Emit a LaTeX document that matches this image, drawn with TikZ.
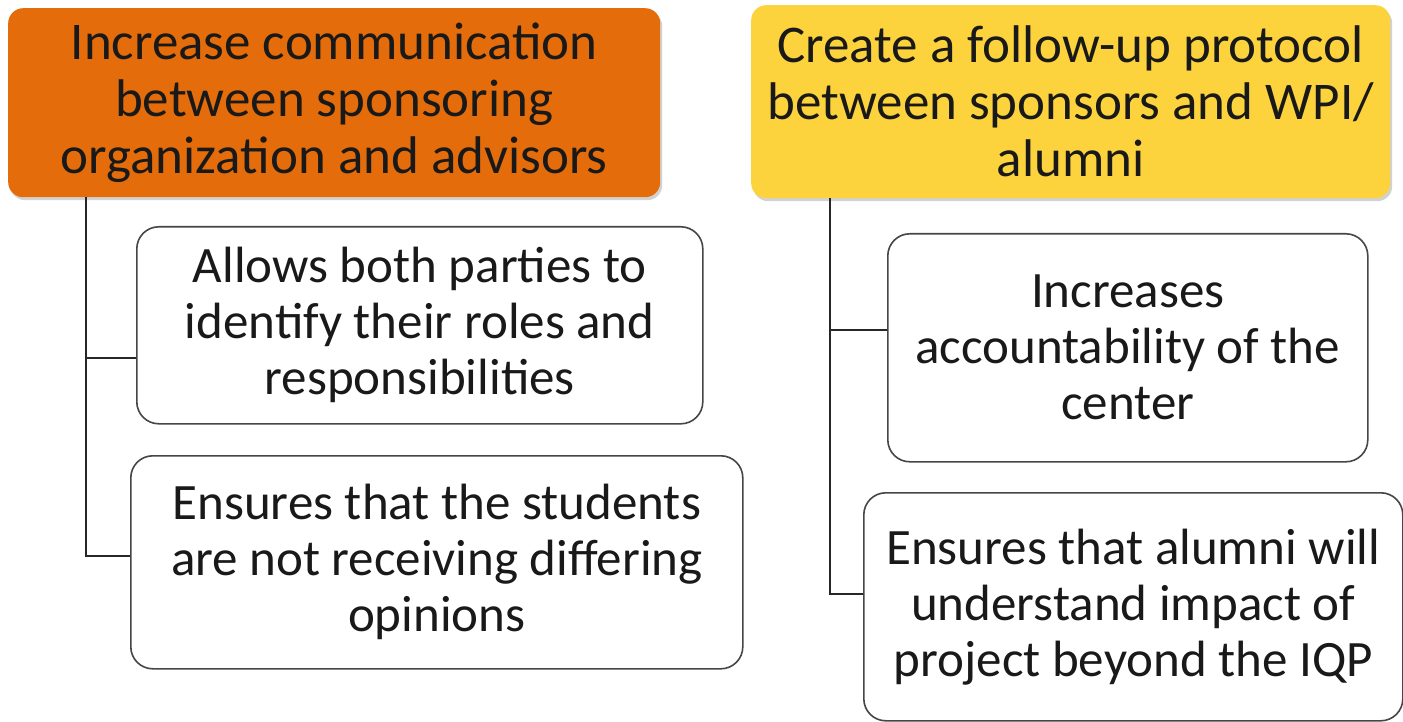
\documentclass[tikz,border=0pt]{standalone}
\usepackage{fontspec}
\setmainfont{Carlito}
\usetikzlibrary{shadows}
\definecolor{hdrorange}{RGB}{228,108,10}
\definecolor{hdryellow}{RGB}{252,211,60}
\definecolor{boxline}{RGB}{70,70,70}
\begin{document}
\begin{tikzpicture}[x=1pt,y=-1pt,
  hdrbox/.style={rounded corners=15pt, draw=none, anchor=north west, align=center,
    inner sep=0pt, font=\fontsize{53}{57}\selectfont, text=black!90,
    drop shadow={opacity=0.35, shadow xshift=2pt, shadow yshift=-3pt}},
  subbox/.style={rounded corners=22pt, draw=boxline, line width=1.6pt, fill=white,
    anchor=north west, align=center, inner sep=0pt,
    font=\fontsize{51}{56}\selectfont, text=black!90},
  link/.style={draw=black!85, line width=1.8pt}]
\useasboundingbox (0,0) rectangle (1403,722);
\fill[white] (0,0) rectangle (1403,722);
% headers
\node[hdrbox, fill=hdrorange, minimum width=652pt, minimum height=189pt] (h1) at (8,8)
  {Increase communication\\between sponsoring\\organization and advisors};
\node[hdrbox, fill=hdryellow, minimum width=639pt, minimum height=193pt] (h2) at (751,5)
  {Create a follow-up protocol\\between sponsors and WPI/\\alumni};
% children
\node[subbox, minimum width=566pt, minimum height=197pt] (c1) at (136,226)
  {Allows both parties to\\identify their roles and\\responsibilities};
\node[subbox, minimum width=612pt, minimum height=213pt] (c2) at (130,455)
  {Ensures that the students\\are not receiving differing\\opinions};
\node[subbox, minimum width=480pt, minimum height=228pt] (c3) at (887,233)
  {Increases\\accountability of the\\center};
\node[subbox, minimum width=539pt, minimum height=228pt] (c4) at (863,492)
  {Ensures that alumni will\\understand impact of\\project beyond the IQP};
% connectors
\draw[link] ([xshift=78pt]h1.south west) |- ([yshift=-32.5pt]c1.west);
\draw[link] ([xshift=78pt]h1.south west) |- ([yshift=6.5pt]c2.west);
\draw[link] ([xshift=79pt]h2.south west) |- ([yshift=18pt]c3.west);
\draw[link] ([xshift=79pt]h2.south west) |- ([yshift=13pt]c4.west);
\end{tikzpicture}
\end{document}
